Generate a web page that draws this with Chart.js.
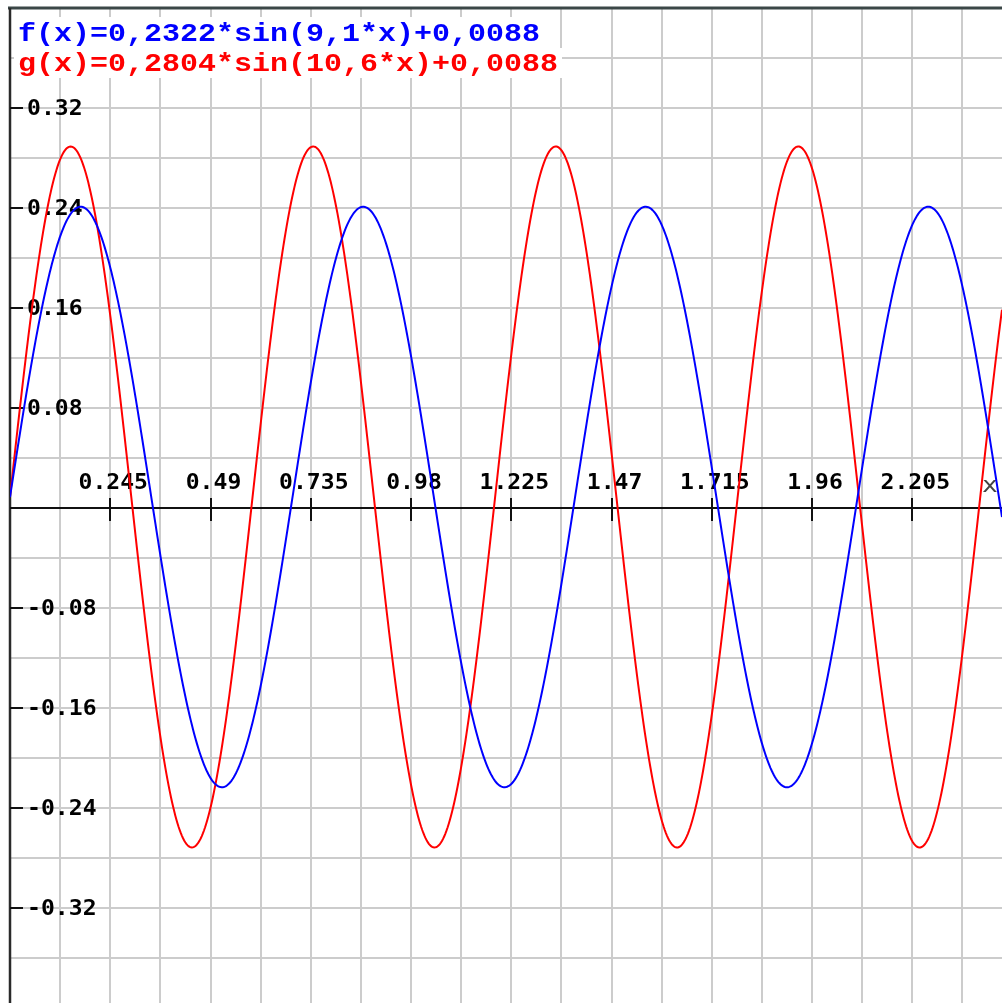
<!DOCTYPE html>
<html>
<head>
<meta charset="utf-8">
<title>f(x), g(x)</title>
<script src="https://cdn.jsdelivr.net/npm/chart.js@4.4.0/dist/chart.umd.min.js"></script>
<style>
  html, body { margin: 0; padding: 0; background: #fff; }
  #plot { display: block; }
</style>
</head>
<body>
<canvas id="plot" width="1002" height="1003"></canvas>
<script>
// y = a * sin(k * x) + c for each plotted function
const fnNames = ['f', 'g'];
const amplitudes = [0.2322, 0.2804];
const frequencies = [9.1, 10.6];
const offsets = [0.0088, 0.0088];
const fnColors = ['#0000ff', '#ff0000'];

const xTicks = [0.245, 0.49, 0.735, 0.98, 1.225, 1.47, 1.715, 1.96, 2.205];
const yTicks = [0.32, 0.24, 0.16, 0.08, -0.08, -0.16, -0.24, -0.32];

// visible window
const xRange = [0, 2.4242];
const yRange = [-0.396, 0.4];
const xGridStep = 0.1225;
const yGridStep = 0.04;

function sampleFn(i) {
  const pts = [];
  const n = 900;
  for (let k = 0; k <= n; k++) {
    const x = xRange[0] + (xRange[1] - xRange[0]) * k / n;
    pts.push({ x: x, y: amplitudes[i] * Math.sin(frequencies[i] * x) + offsets[i] });
  }
  return pts;
}

const commaNum = v => String(v).replace('.', ',');
const legendText = fnNames.map((n, i) =>
  n + '(x)=' + commaNum(amplitudes[i]) + '*sin(' + commaNum(frequencies[i]) + '*x)+' + commaNum(offsets[i]));

// stretched text, the labels are wider than the font
function wideText(ctx, str, x, y, sx, align) {
  ctx.save();
  ctx.translate(x, y);
  ctx.scale(sx, 1);
  ctx.textAlign = align;
  ctx.fillText(str, 0, 0);
  ctx.restore();
}

function seg(ctx, x1, y1, x2, y2) {
  ctx.beginPath();
  ctx.moveTo(x1, y1);
  ctx.lineTo(x2, y2);
  ctx.stroke();
}

const backdrop = {
  id: 'backdrop',
  beforeDatasetsDraw(chart) {
    const { ctx, chartArea: a, scales } = chart;
    const sx = scales.x, sy = scales.y;
    ctx.save();
    ctx.fillStyle = '#fff';
    ctx.fillRect(0, 0, chart.width, chart.height);

    // grid
    ctx.strokeStyle = '#cccccc';
    ctx.lineWidth = 2;
    for (let k = 1; k * xGridStep <= xRange[1]; k++) {
      const px = Math.round(sx.getPixelForValue(k * xGridStep));
      seg(ctx, px, a.top, px, a.bottom);
    }
    for (let k = Math.ceil(yRange[0] / yGridStep); k * yGridStep < yRange[1] - 1e-9; k++) {
      const py = Math.round(sy.getPixelForValue(k * yGridStep));
      seg(ctx, a.left, py, a.right, py);
    }

    // frame on top
    ctx.strokeStyle = '#3b4747';
    ctx.lineWidth = 3;
    seg(ctx, a.left - 2, a.top, a.right, a.top);

    // axes
    const x0 = sx.getPixelForValue(0);
    const y0 = Math.round(sy.getPixelForValue(0));
    ctx.strokeStyle = '#2a2a2a';
    ctx.lineWidth = 2.5;
    seg(ctx, x0, a.top, x0, a.bottom);
    ctx.strokeStyle = '#111';
    ctx.lineWidth = 2;
    seg(ctx, a.left, y0, a.right, y0);

    // ticks
    xTicks.forEach(v => {
      const px = Math.round(sx.getPixelForValue(v));
      seg(ctx, px, y0 - 10, px, y0 + 13);
    });
    yTicks.forEach(v => {
      const py = Math.round(sy.getPixelForValue(v));
      seg(ctx, x0, py, x0 + 13, py);
    });

    // tick labels
    ctx.fillStyle = '#000';
    ctx.font = 'bold 21px "DejaVu Sans Mono"';
    ctx.textBaseline = 'middle';
    xTicks.forEach(v => {
      wideText(ctx, String(v), sx.getPixelForValue(v) + 3, y0 - 24, 1.1, 'center');
    });
    yTicks.forEach(v => {
      wideText(ctx, String(v), x0 + 17, sy.getPixelForValue(v) + 2, 1.1, 'left');
    });
    ctx.fillStyle = '#444';
    ctx.font = '22px "DejaVu Sans Mono"';
    wideText(ctx, 'x', a.right - 12, y0 - 22, 1.2, 'center');

    // formulas
    ctx.font = 'bold 26px "Liberation Mono"';
    ctx.textBaseline = 'alphabetic';
    const scaleX = 522 / ctx.measureText(legendText[0]).width;
    const rows = [{ top: 17, h: 31, base: 41 }, { top: 48, h: 30, base: 71 }];
    legendText.forEach((t, i) => {
      const w = ctx.measureText(t).width * scaleX;
      ctx.fillStyle = '#fff';
      ctx.fillRect(14, rows[i].top, w + 8, rows[i].h);
      ctx.fillStyle = fnColors[i];
      wideText(ctx, t, 18, rows[i].base, scaleX, 'left');
    });
    ctx.restore();
  }
};

new Chart(document.getElementById('plot'), {
  type: 'scatter',
  data: {
    datasets: fnNames.map((n, i) => ({
      label: n,
      data: sampleFn(i),
      showLine: true,
      borderColor: fnColors[i],
      borderWidth: 2,
      pointRadius: 0,
      fill: false,
      tension: 0
    }))
  },
  options: {
    responsive: false,
    animation: false,
    devicePixelRatio: 1,
    layout: { padding: { left: 10, top: 8, right: 0, bottom: 0 } },
    plugins: { legend: { display: false }, tooltip: { enabled: false } },
    scales: {
      x: { type: 'linear', display: false, min: xRange[0], max: xRange[1] },
      y: { type: 'linear', display: false, min: yRange[0], max: yRange[1] }
    }
  },
  plugins: [backdrop]
});
</script>
</body>
</html>
